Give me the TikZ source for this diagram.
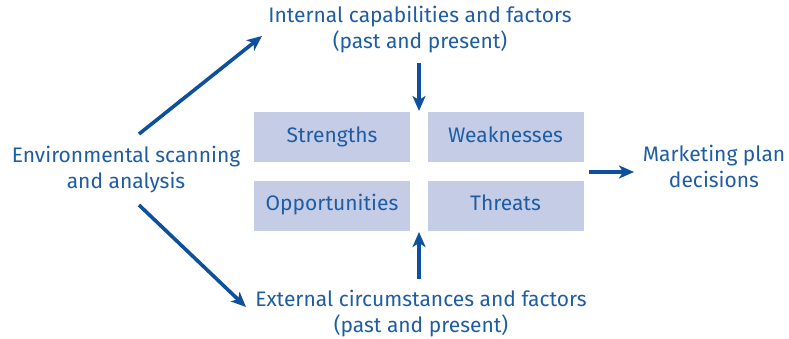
\documentclass[tikz,border=0pt]{standalone}
\usepackage{fontspec}
\setmainfont{Fira Sans}
\usetikzlibrary{arrows.meta}
\definecolor{txtblue}{RGB}{30,92,164}
\definecolor{arrblue}{RGB}{12,80,158}
\definecolor{boxfill}{RGB}{197,205,230}
\tikzset{
  lbl/.style={text=txtblue, align=center, font=\fontsize{21}{25.8}\selectfont, inner sep=0pt, anchor=base},
  swot/.style={fill=boxfill, draw=none, minimum width=156pt, minimum height=50pt, inner sep=0pt},
  swtxt/.style={text=txtblue, font=\fontsize{21}{25}\selectfont, inner sep=0pt, anchor=base},
  arr/.style={draw=arrblue, line width=3.6pt, -{Stealth[length=15pt,width=13pt,inset=4pt]}}
}
\begin{document}
\begin{tikzpicture}[x=1pt,y=-1pt]
\useasboundingbox (0,0) rectangle (789,339);
\node[swot] (S) at (332,137) {};
\node[swot] (W) at (505.5,137) {};
\node[swot] (O) at (332,206) {};
\node[swot] (T) at (505.5,206) {};
\node[swtxt] (St) at (332,142.5) {Strengths};
\node[swtxt] (Wt) at (505.5,142.5) {Weaknesses};
\node[swtxt] (Ot) at (332,211) {Opportunities};
\node[swtxt] (Tt) at (505.5,211) {Threats};
\node[lbl] (env) at (126,188.3) {Environmental scanning\\and analysis};
\node[lbl] (int) at (420,48.3) {Internal capabilities and factors\\(past and present)};
\node[lbl] (ext) at (421,332) {External circumstances and factors\\(past and present)};
\node[lbl] (mkt) at (714,187.3) {Marketing plan\\decisions};
\coordinate (envup) at (139,134);
\coordinate (intin) at (262,36);
\coordinate (envdn) at (139,205);
\coordinate (extin) at (246,307);
\coordinate (intout) at (419,63);
\coordinate (swtop) at (419,111);
\coordinate (extout) at (419,279);
\coordinate (swbot) at (419,232);
\coordinate (swright) at (589,172);
\coordinate (mktin) at (634,172);
\draw[arr] (envup) -- (intin);
\draw[arr] (envdn) -- (extin);
\draw[arr] (intout) -- (swtop);
\draw[arr] (extout) -- (swbot);
\draw[arr] (swright) -- (mktin);
\end{tikzpicture}
\end{document}
